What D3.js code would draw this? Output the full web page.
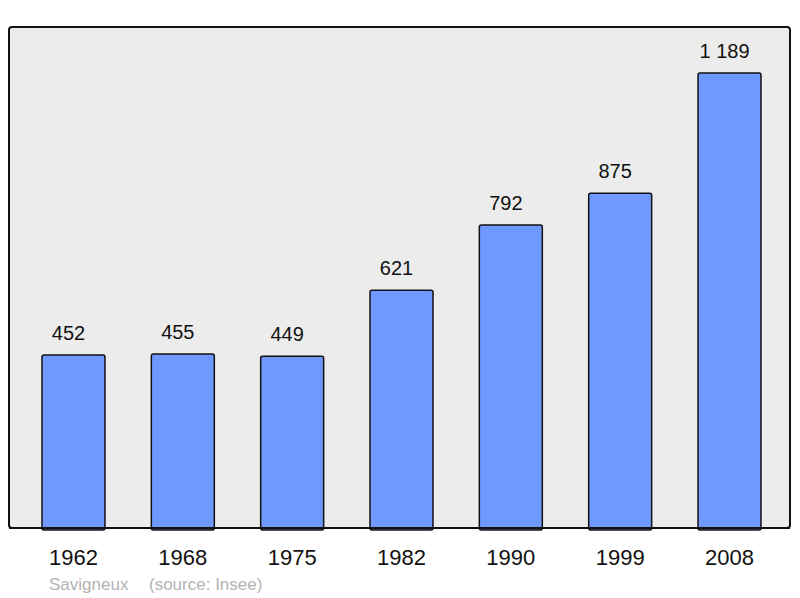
<!DOCTYPE html>
<html><head><meta charset="utf-8">
<script src="https://cdn.jsdelivr.net/npm/d3@7"></script>
<style>body{margin:0;background:#fff}svg{display:block}</style>
</head><body>
<svg id="c" width="800" height="598"></svg>
<script>
const years = ["1962","1968","1975","1982","1990","1999","2008"];
const population = [452,455,449,621,792,875,1189];
const valueLabels = ["452","455","449","621","792","875","1 189"];
const footerName = "Savigneux";
const footerSource = "(source: Insee)";

const svg = d3.select("#c");
const font = "'Liberation Sans', Arial, sans-serif";

svg.append("rect").attr("x",9).attr("y",27).attr("width",781).attr("height",501)
  .attr("rx",3).attr("fill","#ececec").attr("stroke","#111").attr("stroke-width",2);

const x = d3.scaleBand().domain(years).range([42,761]).paddingInner(0.424).paddingOuter(0);
const y = d3.scaleLinear().domain([0,1189]).range([528,73]);

const g = svg.append("g");
g.selectAll("rect.bar").data(population).join("rect").attr("class","bar")
  .attr("x",(d,i)=>x(years[i])).attr("width",x.bandwidth())
  .attr("y",d=>y(d)).attr("height",d=>y(0)-y(d)+2)
  .attr("rx",2).attr("fill","#7099ff").attr("stroke","#111").attr("stroke-width",1.5);

svg.append("line").attr("x1",9).attr("x2",790).attr("y1",528).attr("y2",528)
  .attr("stroke","#111").attr("stroke-width",2);

g.selectAll("text.val").data(population).join("text").attr("class","val")
  .attr("x",(d,i)=>x(years[i])+x.bandwidth()/2-5).attr("y",d=>y(d)-15)
  .attr("text-anchor","middle").attr("font-family",font).attr("font-size",20)
  .attr("fill","#111").text((d,i)=>valueLabels[i]);

const xAxis = d3.axisBottom(x).tickSize(0).tickPadding(0);
const ax = svg.append("g").attr("transform","translate(0,549)").call(xAxis);
ax.select(".domain").remove();
ax.selectAll("text").attr("font-family",font).attr("font-size",22).attr("fill","#111")
  .attr("dy","0.71em");

svg.append("text").attr("x",49).attr("y",590).attr("font-family",font).attr("font-size",17)
  .attr("fill","#b3b3b3").text(footerName);
svg.append("text").attr("x",149).attr("y",590).attr("font-family",font).attr("font-size",17)
  .attr("fill","#b3b3b3").text(footerSource);
</script>
</body></html>
